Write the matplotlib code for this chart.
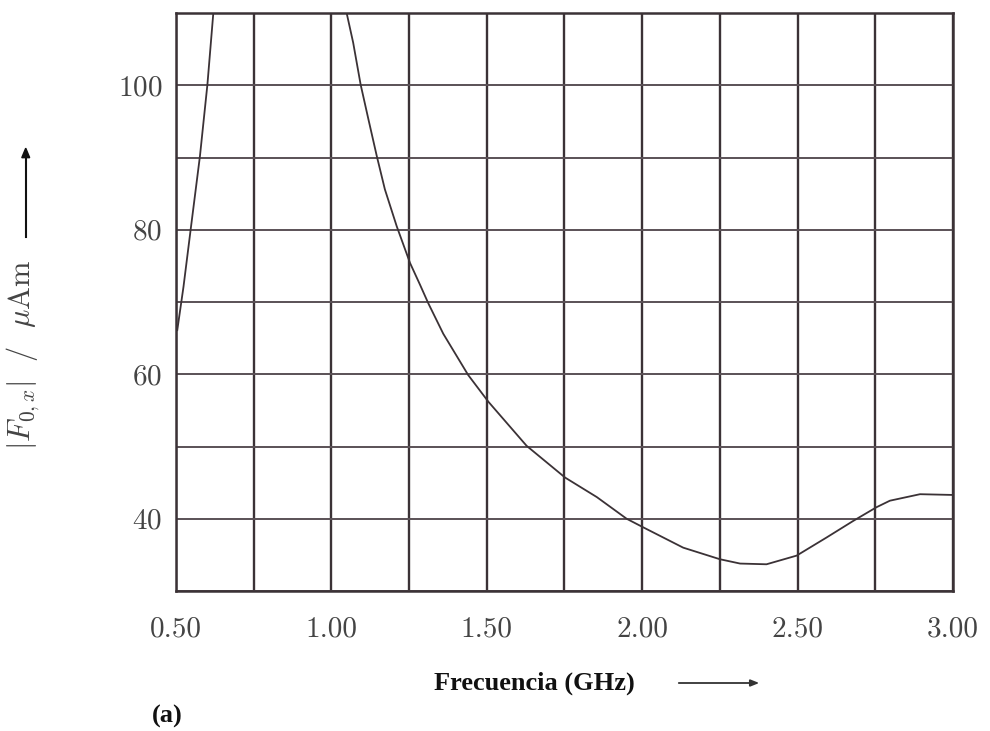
import numpy as np
import matplotlib
matplotlib.use('Agg')
import matplotlib.pyplot as plt
from matplotlib.ticker import MultipleLocator, FixedLocator

plt.rcParams['mathtext.fontset'] = 'cm'
plt.rcParams['font.family'] = ['serif']
plt.rcParams['font.serif'] = ['cmr10', 'DejaVu Serif']
plt.rcParams['axes.formatter.use_mathtext'] = True

# |F0,x| vs frequency
f_low = [0.504, 0.524, 0.547, 0.577, 0.601, 0.620]
F_low = [66.1, 72.1, 80.0, 90.2, 100.1, 110.0]

f_high = [1.049, 1.070, 1.094, 1.119, 1.146, 1.172, 1.210, 1.253, 1.285, 1.312,
          1.360, 1.440, 1.505, 1.628, 1.752, 1.854, 1.950, 2.004, 2.132, 2.250,
          2.315, 2.400, 2.497, 2.593, 2.679, 2.754, 2.797, 2.894, 2.996]
F_high = [110.0, 105.9, 100.1, 95.3, 90.2, 85.6, 80.5, 75.4, 72.4, 69.8,
          65.6, 59.9, 56.2, 50.1, 45.7, 43.0, 40.0, 38.8, 36.0, 34.4,
          33.8, 33.7, 34.9, 37.4, 39.7, 41.6, 42.5, 43.4, 43.3]

x_ticks = [0.50, 1.00, 1.50, 2.00, 2.50, 3.00]
x_labels = ['0.50', '1.00', '1.50', '2.00', '2.50', '3.00']
y_ticks = [40, 60, 80, 100]

ink = '#3b3236'

fig = plt.figure(figsize=(9.9, 7.31), dpi=100)
ax = fig.add_axes([0.1778, 0.1915, 0.9626 - 0.1778, 0.9822 - 0.1915])

ax.plot(f_low, F_low, color=ink, linewidth=1.3)
ax.plot(f_high, F_high, color=ink, linewidth=1.3)

ax.set_xlim(0.5, 3.0)
ax.set_ylim(30, 110)

ax.xaxis.set_major_locator(FixedLocator(x_ticks))
ax.set_xticklabels(x_labels)
ax.xaxis.set_minor_locator(MultipleLocator(0.25))
ax.yaxis.set_major_locator(FixedLocator(y_ticks))
ax.yaxis.set_minor_locator(MultipleLocator(10))

ax.grid(True, which='both', axis='x', color=ink, linewidth=1.7)
ax.grid(True, which='both', axis='y', color='#5a5156', linewidth=1.4)
ax.set_axisbelow(True)

for s in ax.spines.values():
    s.set_color(ink)
    s.set_linewidth(1.8)

ax.tick_params(which='both', length=0)
ax.tick_params(axis='x', pad=18, labelsize=21, colors='#444444')
ax.tick_params(axis='y', pad=10, labelsize=21, colors='#444444')

# y label with arrow
fig.text(0.024, 0.515, r'$|F_{0,x}|\ \ /\ \ \mu\mathrm{Am}$', rotation=90,
         ha='center', va='center', fontsize=22, color='#444444')
fig.add_artist(plt.Line2D([0.026, 0.026], [1 - 237 / 731, 1 - 160 / 731],
                          color='#111111', linewidth=1.5))
fig.patches.append(matplotlib.patches.FancyArrow(
    0.026, 1 - 165 / 731, 0, 0.01, width=0.0, head_width=0.008, head_length=0.013,
    length_includes_head=False, color='#111111', transform=fig.transFigure))

# x label with arrow
fig.text(0.54, 1 - 683 / 731, 'Frecuencia (GHz)', ha='center', va='center',
         fontsize=19, fontweight='bold', family=['Liberation Serif'], color='#111111')
fig.add_artist(matplotlib.patches.FancyArrowPatch(
    (676 / 990, 1 - 683 / 731), (762 / 990, 1 - 683 / 731),
    arrowstyle='-|>,head_length=5,head_width=2', color='#333333', linewidth=1.3,
    transform=fig.transFigure))

fig.text(0.169, 1 - 716 / 731, '(a)', ha='center', va='center', fontsize=19,
         fontweight='bold', family=['Liberation Serif'], color='#111111')

fig.savefig('out.png', dpi=100)
